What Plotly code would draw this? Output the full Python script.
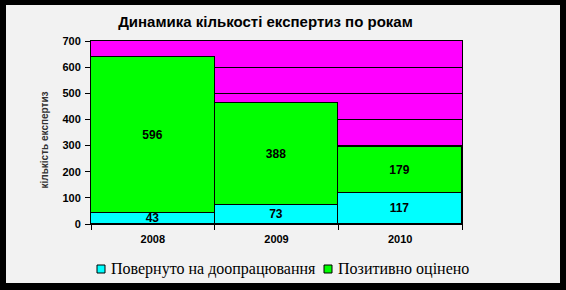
import plotly.graph_objects as go

years = ["2008", "2009", "2010"]
returned = [43, 73, 117]
positive = [596, 388, 179]
y_ticks = [0, 100, 200, 300, 400, 500, 600, 700]

title_text = "Динамика кількості експертиз по рокам"
series_names = ["Повернуто на доопрацювання", "Позитивно оцінено"]
series_colors = ["#00ffff", "#00ff00"]
y_title = "кількість експертиз"

W, H = 566, 290
L, R, T, B = 91, 104, 41, 66
pw, ph = W - L - R, H - T - B


def px_x(p):
    return (p - L) / pw


def px_y(p):
    return (H - B - p) / ph


fig = go.Figure()
for vals, name, col in zip([returned, positive], series_names, series_colors):
    fig.add_bar(
        x=years, y=vals, name=name,
        marker=dict(color=col, line=dict(color="black", width=1)),
        text=[str(v) for v in vals], textposition="inside",
        insidetextanchor="middle", textangle=0,
        textfont=dict(family="Liberation Sans", size=12, color="black", weight="bold"),
    )

shapes = [
    dict(type="rect", xref="paper", yref="paper", x0=px_x(0), x1=px_x(6), y0=px_y(H), y1=px_y(0),
         fillcolor="black", line=dict(width=0), layer="above"),
    dict(type="rect", xref="paper", yref="paper", x0=px_x(560), x1=px_x(W), y0=px_y(H), y1=px_y(0),
         fillcolor="black", line=dict(width=0), layer="above"),
    dict(type="rect", xref="paper", yref="paper", x0=px_x(0), x1=px_x(W), y0=px_y(5), y1=px_y(0),
         fillcolor="black", line=dict(width=0), layer="above"),
    dict(type="rect", xref="paper", yref="paper", x0=px_x(0), x1=px_x(W), y0=px_y(H), y1=px_y(283),
         fillcolor="black", line=dict(width=0), layer="above"),
]

annotations = [dict(text=y_title, xref="paper", yref="paper", x=px_x(36), y=px_y(140),
                    textangle=-90, showarrow=False,
                    font=dict(family="Liberation Sans", size=10, color="#333333", weight="bold"))]

# manual legend (Excel-like, compact)
legend_box_x = [97, 324]
legend_text_x = [109, 336]
for bx, tx, name, col in zip(legend_box_x, legend_text_x, series_names, series_colors):
    shapes.append(dict(type="rect", xref="paper", yref="paper",
                       x0=px_x(bx), x1=px_x(bx + 8), y0=px_y(273), y1=px_y(265),
                       fillcolor=col, line=dict(color="black", width=1), layer="above"))
    annotations.append(dict(text=name, xref="paper", yref="paper", x=px_x(tx), y=px_y(269),
                            xanchor="left", yanchor="middle", showarrow=False,
                            font=dict(family="Liberation Serif", size=16, color="black")))

fig.update_layout(
    width=W, height=H,
    margin=dict(l=L, r=R, t=T, b=B, pad=0, autoexpand=False),
    barmode="stack", bargap=0,
    paper_bgcolor="#f2f2f2", plot_bgcolor="#ff00ff",
    font=dict(family="Liberation Sans", color="black"),
    title=dict(text=title_text, x=px_x(265), xanchor="center", y=1 - 22 / H, yanchor="middle",
               font=dict(family="Liberation Sans", size=15, color="black", weight="bold")),
    uniformtext=dict(minsize=12, mode="show"),
    showlegend=False,
    shapes=shapes,
    annotations=annotations,
)
fig.update_xaxes(
    type="category", tickson="boundaries", ticks="outside", ticklen=5, tickcolor="black",
    showline=True, linecolor="black", linewidth=1, mirror=True, showgrid=False,
    ticklabelstandoff=5,
    tickfont=dict(family="Liberation Sans", size=11, color="black", weight="bold"),
)
fig.update_yaxes(
    range=[0, 700], tickvals=y_ticks, ticks="outside", ticklen=5, tickcolor="black",
    showline=True, linecolor="black", linewidth=1, mirror=True,
    showgrid=True, gridcolor="black", gridwidth=1, zeroline=False,
    ticklabelstandoff=2,
    tickfont=dict(family="Liberation Sans", size=11, color="black", weight="bold"),
)

fig.write_html("out.html")
